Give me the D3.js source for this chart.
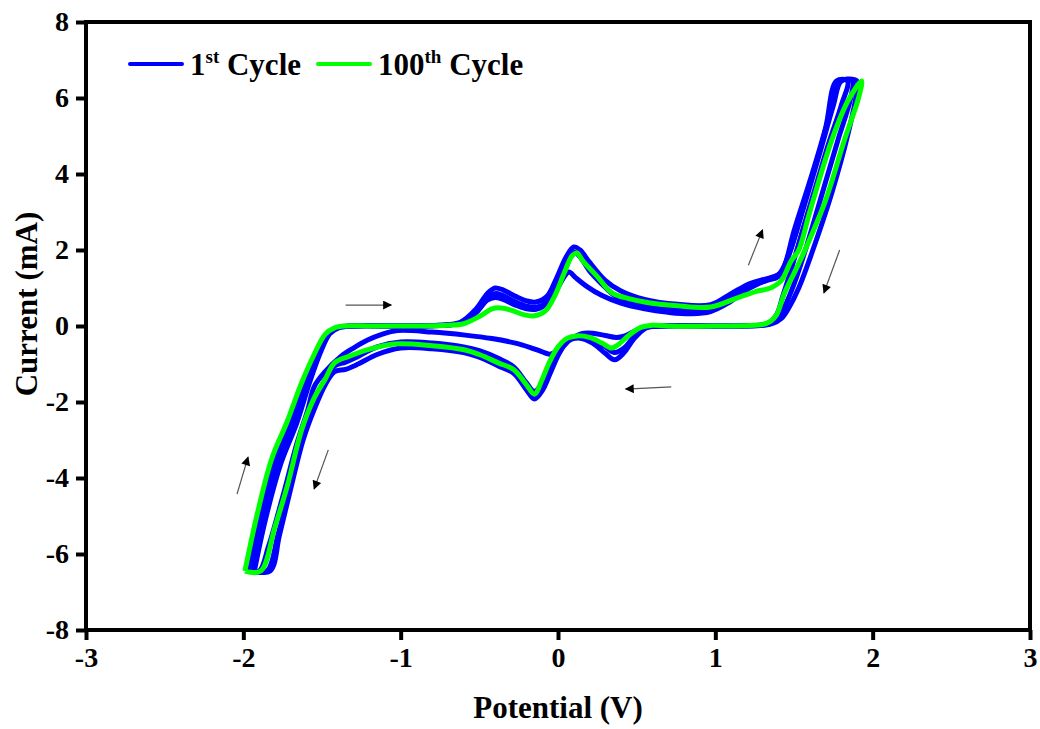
<!DOCTYPE html>
<html>
<head>
<meta charset="utf-8">
<script src="https://cdn.jsdelivr.net/npm/d3@7"></script>
<style>
  body { margin: 0; background: #fff; }
  text { font-family: "Liberation Serif", "Times New Roman", serif; font-weight: bold; }
</style>
</head>
<body>
<svg id="chart"></svg>
<script>
// Potential (V), Current (mA)
const xTicks = [-3, -2, -1, 0, 1, 2, 3];
const yTicks = [-8, -6, -4, -2, 0, 2, 4, 6, 8];

// blue: early cycles (the 1st cycle is the inner loop)
const cycle1 = [
  [-1.97,-6.45],[-1.9,-5.1],[-1.8,-3.6],[-1.7,-2.6],[-1.61,-1.55],[-1.54,-0.8],[-1.47,-0.25],[-1.41,-0.05],
  [-1.33,0],[-1.0,0],[-0.75,0.01],[-0.62,0.08],[-0.52,0.35],[-0.45,0.7],[-0.4,0.85],[-0.36,0.82],
  [-0.28,0.65],[-0.2,0.52],[-0.13,0.5],[-0.07,0.62],[-0.01,0.95],[0.04,1.3],[0.07,1.42],[0.11,1.28],
  [0.18,1.05],[0.28,0.8],[0.4,0.6],[0.55,0.45],[0.7,0.36],[0.85,0.32],[0.97,0.38],[1.08,0.6],
  [1.2,0.95],[1.32,1.2],[1.4,1.35],[1.44,1.6],[1.5,2.5],[1.6,3.8],[1.7,5.2],[1.77,6.45],[1.84,6.45],
  [1.8,5.8],[1.72,4.8],[1.64,3.7],[1.56,2.6],[1.49,1.6],[1.43,0.8],[1.39,0.3],[1.34,0.08],[1.28,0.02],
  [1.0,0],[0.65,0],[0.55,-0.03],[0.48,-0.15],[0.42,-0.27],[0.37,-0.3],[0.3,-0.25],[0.22,-0.19],
  [0.15,-0.2],[0.08,-0.35],[0.02,-0.58],[-0.05,-0.74],[-0.1,-0.68],[-0.18,-0.56],[-0.27,-0.45],
  [-0.42,-0.33],[-0.59,-0.24],[-0.8,-0.16],[-1.02,-0.12],[-1.12,-0.22],[-1.21,-0.37],[-1.3,-0.58],
  [-1.38,-0.8],[-1.48,-1.2],[-1.55,-1.6],[-1.59,-2.2],[-1.66,-3.1],[-1.75,-4.5],[-1.84,-5.8],
  [-1.9,-6.45],[-1.97,-6.45]
];
const cycle2 = [
  [-1.93,-6.45],[-1.86,-5.1],[-1.76,-3.6],[-1.66,-2.55],[-1.58,-1.5],[-1.51,-0.7],[-1.45,-0.2],[-1.39,-0.04],
  [-1.3,0],[-1.0,0],[-0.75,0.02],[-0.62,0.1],[-0.52,0.45],[-0.45,0.85],[-0.4,1.0],[-0.35,0.95],
  [-0.27,0.78],[-0.2,0.66],[-0.14,0.63],[-0.07,0.78],[-0.01,1.25],[0.05,1.8],[0.1,2.08],[0.14,2.0],
  [0.2,1.68],[0.3,1.2],[0.4,0.92],[0.55,0.7],[0.76,0.57],[0.97,0.56],[1.1,0.85],[1.22,1.12],
  [1.33,1.25],[1.41,1.38],[1.47,1.9],[1.57,3.3],[1.67,4.7],[1.75,5.9],[1.8,6.45],[1.9,6.45],
  [1.9,6.2],[1.84,5.0],[1.74,3.5],[1.62,2.0],[1.53,1.0],[1.47,0.5],[1.42,0.2],[1.36,0.06],[1.3,0.02],
  [1.0,0],[0.65,0],[0.56,-0.05],[0.48,-0.35],[0.42,-0.7],[0.36,-0.89],[0.3,-0.72],[0.22,-0.45],
  [0.14,-0.32],[0.07,-0.38],[0.01,-0.7],[-0.05,-1.25],[-0.1,-1.7],[-0.15,-1.92],[-0.2,-1.68],
  [-0.28,-1.25],[-0.38,-1.05],[-0.5,-0.82],[-0.6,-0.7],[-0.8,-0.6],[-1.0,-0.58],[-1.15,-0.75],
  [-1.27,-1.0],[-1.35,-1.14],[-1.42,-1.2],[-1.48,-1.55],[-1.55,-2.2],[-1.62,-3.0],[-1.7,-4.3],
  [-1.77,-5.5],[-1.83,-6.45],[-1.93,-6.45]
];
const cycle10 = [
  [-1.95,-6.45],[-1.88,-5.1],[-1.78,-3.6],[-1.68,-2.55],[-1.6,-1.5],[-1.52,-0.72],[-1.46,-0.2],[-1.4,-0.04],
  [-1.3,0],[-1.0,0],[-0.75,0.02],[-0.62,0.08],[-0.52,0.38],[-0.45,0.68],[-0.4,0.75],[-0.35,0.7],
  [-0.27,0.55],[-0.2,0.45],[-0.14,0.44],[-0.07,0.6],[-0.01,1.05],[0.05,1.6],[0.1,1.95],[0.14,1.82],
  [0.2,1.45],[0.28,1.1],[0.36,0.8],[0.48,0.58],[0.6,0.48],[0.76,0.42],[0.9,0.42],[1.0,0.5],
  [1.1,0.75],[1.22,1.05],[1.33,1.2],[1.4,1.3],[1.46,1.8],[1.56,3.1],[1.66,4.5],[1.75,5.8],[1.8,6.45],[1.87,6.45],
  [1.86,6.0],[1.78,4.9],[1.68,3.5],[1.58,2.1],[1.5,1.1],[1.44,0.5],[1.4,0.2],[1.35,0.06],[1.3,0.02],
  [1.0,0],[0.65,0],[0.56,-0.04],[0.48,-0.3],[0.42,-0.58],[0.36,-0.7],[0.3,-0.55],[0.22,-0.35],
  [0.14,-0.27],[0.07,-0.33],[0.01,-0.55],[-0.05,-1.05],[-0.1,-1.5],[-0.15,-1.72],[-0.2,-1.5],
  [-0.28,-1.08],[-0.38,-0.85],[-0.5,-0.65],[-0.6,-0.55],[-0.8,-0.45],[-1.0,-0.42],[-1.15,-0.55],
  [-1.27,-0.8],[-1.35,-0.95],[-1.42,-1.05],[-1.48,-1.4],[-1.55,-2.0],[-1.62,-2.9],[-1.7,-4.2],
  [-1.78,-5.5],[-1.85,-6.45],[-1.95,-6.45]
];
// green: 100th cycle
const cycle100 = [
  [-1.99,-6.45],[-1.92,-5.1],[-1.82,-3.5],[-1.72,-2.5],[-1.63,-1.5],[-1.55,-0.75],[-1.48,-0.22],[-1.42,-0.05],
  [-1.35,0],[-1.2,0],[-0.9,0],[-0.7,0.02],[-0.6,0.06],[-0.5,0.25],[-0.42,0.45],[-0.38,0.48],
  [-0.3,0.42],[-0.22,0.3],[-0.15,0.27],[-0.08,0.4],[-0.02,0.8],[0.04,1.4],[0.09,1.85],[0.12,1.92],
  [0.16,1.7],[0.25,1.3],[0.34,0.88],[0.45,0.72],[0.55,0.63],[0.76,0.53],[0.97,0.5],[1.14,0.74],
  [1.25,0.9],[1.35,1.0],[1.42,1.2],[1.48,1.7],[1.53,2.0],[1.6,3.0],[1.74,4.89],[1.84,5.9],[1.93,6.45],
  [1.91,6.0],[1.82,4.89],[1.7,3.3],[1.57,2.0],[1.51,1.47],[1.44,0.87],[1.39,0.3],[1.35,0.12],[1.3,0.04],
  [1.0,0],[0.7,0],[0.6,0.02],[0.52,-0.05],[0.45,-0.25],[0.38,-0.5],[0.34,-0.58],[0.28,-0.45],
  [0.2,-0.3],[0.12,-0.26],[0.06,-0.32],[0.0,-0.55],[-0.06,-1.0],[-0.1,-1.4],[-0.15,-1.79],[-0.2,-1.55],
  [-0.28,-1.15],[-0.38,-0.97],[-0.5,-0.75],[-0.59,-0.63],[-0.8,-0.52],[-1.02,-0.47],[-1.19,-0.6],
  [-1.33,-0.8],[-1.42,-0.97],[-1.48,-1.4],[-1.55,-1.9],[-1.63,-2.74],[-1.72,-4.2],[-1.8,-5.3],
  [-1.89,-6.45],[-1.99,-6.45]
];

// scan direction arrows [x1, y1, x2, y2]
const arrows = [
  [-1.35, 0.55, -1.06, 0.55],
  [0.72, -1.6, 0.43, -1.66],
  [1.21, 1.6, 1.3, 2.53],
  [1.79, 2.0, 1.69, 0.87],
  [-2.04, -4.42, -1.97, -3.45],
  [-1.46, -3.26, -1.55, -4.29]
];

const width = 1040, height = 729;
const margin = { top: 22, right: 10, bottom: 99, left: 86 };

const svg = d3.select('#chart')
  .attr('width', width)
  .attr('height', height);

const x = d3.scaleLinear().domain([-3, 3]).range([margin.left, width - margin.right]);
const y = d3.scaleLinear().domain([-8, 8]).range([height - margin.bottom, margin.top]);

const defs = svg.append('defs');
defs.append('marker')
  .attr('id', 'head')
  .attr('viewBox', '0 0 10 10')
  .attr('refX', 9).attr('refY', 5)
  .attr('markerWidth', 18).attr('markerHeight', 9)
  .attr('markerUnits', 'userSpaceOnUse')
  .attr('orient', 'auto')
  .append('path')
  .attr('d', 'M0,0 L10,5 L0,10 Z')
  .attr('fill', '#000');

const line = d3.line()
  .x(d => x(d[0]))
  .y(d => y(d[1]))
  .curve(d3.curveCatmullRom.alpha(0.5));

// curves
const plot = svg.append('g');
[cycle2, cycle10, cycle1].forEach(c => {
  plot.append('path')
    .attr('d', line(c))
    .attr('fill', 'none')
    .attr('stroke', '#0000ff')
    .attr('stroke-width', 5)
    .attr('stroke-linejoin', 'round');
});
plot.append('path')
  .attr('d', line(cycle100))
  .attr('fill', 'none')
  .attr('stroke', '#00ff00')
  .attr('stroke-width', 5)
  .attr('stroke-linejoin', 'round');

// arrows
svg.append('g')
  .selectAll('line')
  .data(arrows)
  .enter()
  .append('line')
  .attr('x1', d => x(d[0])).attr('y1', d => y(d[1]))
  .attr('x2', d => x(d[2])).attr('y2', d => y(d[3]))
  .attr('stroke', '#555')
  .attr('stroke-width', 1.2)
  .attr('marker-end', 'url(#head)');

// frame
svg.append('rect')
  .attr('x', x(-3)).attr('y', y(8))
  .attr('width', x(3) - x(-3))
  .attr('height', y(-8) - y(8))
  .attr('fill', 'none')
  .attr('stroke', '#000')
  .attr('stroke-width', 4);

// axes
const xAxis = svg.append('g')
  .attr('transform', `translate(0,${y(-8)})`)
  .call(d3.axisBottom(x).tickValues(xTicks).tickSize(10).tickPadding(7).tickFormat(d => String(d)));
const yAxis = svg.append('g')
  .attr('transform', `translate(${x(-3)},0)`)
  .call(d3.axisLeft(y).tickValues(yTicks).tickSize(10).tickPadding(7).tickFormat(d => String(d)));

[xAxis, yAxis].forEach(a => {
  a.select('.domain').remove();
  a.selectAll('.tick line').attr('stroke', '#000').attr('stroke-width', 4);
  a.selectAll('.tick text')
    .attr('fill', '#000')
    .style('font-size', '28px')
    .style('font-family', '"Liberation Serif", serif')
    .style('font-weight', 'bold');
});
xAxis.selectAll('.tick text').attr('dy', '0.72em');

// axis titles
svg.append('text')
  .attr('x', (x(-3) + x(3)) / 2)
  .attr('y', 718)
  .attr('text-anchor', 'middle')
  .style('font-size', '31px')
  .text('Potential (V)');

svg.append('text')
  .attr('transform', `translate(37,${(y(-8) + y(8)) / 2 - 22}) rotate(-90)`)
  .attr('text-anchor', 'middle')
  .style('font-size', '31px')
  .text('Current (mA)');

// legend
const legendItems = [
  { num: '1', sup: 'st', color: '#0000ff', x: 130 },
  { num: '100', sup: 'th', color: '#00ff00', x: 318 }
];
const legend = svg.append('g');
legendItems.forEach(item => {
  legend.append('line')
    .attr('x1', item.x).attr('x2', item.x + 52)
    .attr('y1', 64).attr('y2', 64)
    .attr('stroke', item.color)
    .attr('stroke-width', 4)
    .attr('stroke-linecap', 'round');
  const t = legend.append('text')
    .attr('x', item.x + 60)
    .attr('y', 75)
    .style('font-size', '31px');
  t.append('tspan').text(item.num);
  t.append('tspan').attr('dy', -12).style('font-size', '19px').text(item.sup);
  t.append('tspan').attr('dy', 12).text(' Cycle');
});
</script>
</body>
</html>
